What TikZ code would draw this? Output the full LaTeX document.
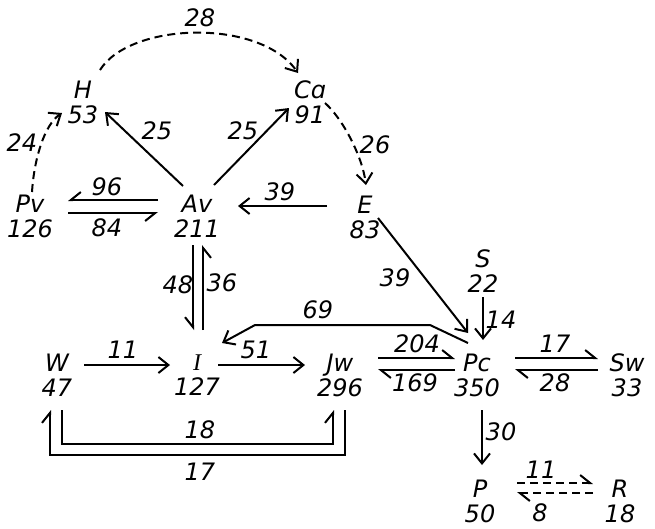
\documentclass[tikz,border=0pt]{standalone}
\usepackage{fontspec}
\setmainfont{DejaVu Sans}
\newfontfamily\serifI{Liberation Serif}
\usetikzlibrary{arrows.meta,calc}
\begin{document}
\begin{tikzpicture}[x=1pt,y=-1pt,
  every node/.style={font=\fontsize{24}{25}\selectfont\itshape, inner sep=0pt},
  sp/.style={align=center},
  ln/.style={line width=2pt},
  arr/.style={ln,-{Straight Barb[length=10pt,width=16pt]}},
  hl/.style={ln,-{Straight Barb[harpoon,length=10pt,width=16pt]}},
  hr/.style={ln,-{Straight Barb[harpoon,swap,length=10pt,width=16pt]}},
  dsh/.style={dash pattern=on 8pt off 5pt}]
\useasboundingbox (0,0) rectangle (655,528);
% species nodes
\node[sp] (H)  at (83,102)  {H\\53};
\node[sp] (Ca) at (310,102) {Cɑ\\91};
\node[sp] (Pv) at (30,216)  {Pv\\126};
\node[sp] (Av) at (197,216) {Av\\211};
\node[sp] (E)  at (365,217) {E\\83};
\node[sp] (S)  at (483,271) {S\\22};
\node[sp] (W)  at (57,375)  {W\\47};
\node[sp] (I)  at (197,375) {{\serifI I}\\127};
\node[sp] (Jw) at (340,375) {Jw\\296};
\node[sp] (Pc) at (477,375) {Pc\\350};
\node[sp] (Sw) at (627,375) {Sw\\33};
\node[sp] (P)  at (480,501) {P\\50};
\node[sp] (R)  at (620,501) {R\\18};
% flow labels
\node (l28a) at (200,18)  {28};
\node (l24)  at (22,143)  {24};
\node (l25a) at (157,131) {25};
\node (l25b) at (243,131) {25};
\node (l26)  at (375,145) {26};
\node (l96)  at (107,187) {96};
\node (l84)  at (107,228) {84};
\node (l39a) at (280,192) {39};
\node (l39b) at (395,278) {39};
\node (l48)  at (178,285) {48};
\node (l36)  at (222,283) {36};
\node (l69)  at (318,310) {69};
\node (l14)  at (501,320) {14};
\node (l11a) at (123,350) {11};
\node (l51)  at (256,350) {51};
\node (l204) at (417,344) {204};
\node (l169) at (415,383) {169};
\node (l17a) at (555,344) {17};
\node (l28b) at (555,383) {28};
\node (l18)  at (200,430) {18};
\node (l17b) at (200,472) {17};
\node (l30)  at (501,432) {30};
\node (l11b) at (541,470) {11};
\node (l8)   at (540,513) {8};
% dashed curves
\draw[arr,dsh] ($(H)+(17,-32)$) .. controls (130,22) and (260,18) .. ($(Ca)+(-12,-29)$);
\draw[arr,dsh] ($(Pv)+(2,-24)$) .. controls (34,160) and (44,125) .. ($(H)+(-21,11)$);
\draw[arr,dsh] ($(Ca)+(15,1)$) .. controls (342,118) and (362,155) .. ($(E)+(1,-32)$);
% straight arrows
\draw[arr] ($(Av)+(-14,-30)$) -- ($(H)+(22,10)$);
\draw[arr] ($(Av)+(17,-31)$) -- ($(Ca)+(-21,6)$);
\draw[arr] ($(E)+(-38,-11)$) -- ($(Av)+(41,-10)$);
\draw[arr] ($(E)+(13,1)$) -- ($(Pc)+(-9,-42)$);
\draw[arr] ($(S)+(0,26)$) -- ($(Pc)+(6,-35)$);
\draw[arr] ($(Pc)+(-9,-32)$) -- ($(Pc)+(-47,-50)$) -- ($(I)+(58,-50)$) -- ($(I)+(25,-32)$);
\draw[arr] ($(W)+(27,-10)$) -- ($(I)+(-27,-10)$);
\draw[arr] ($(I)+(21,-10)$) -- ($(Jw)+(-35,-10)$);
\draw[arr] ($(Pc)+(5,35)$) -- ($(P)+(2,-36)$);
% paired harpoons
\draw[hr] ($(Av)+(-39,-16)$) -- ($(Pv)+(38,-16)$);
\draw[hr] ($(Pv)+(38,-3)$) -- ($(Av)+(-39,-3)$);
\draw[hr] ($(Av)+(-4,29)$) -- ($(I)+(-4,-45)$);
\draw[hr] ($(I)+(6,-45)$) -- ($(Av)+(6,29)$);
\draw[hl] ($(Jw)+(38,-17)$) -- ($(Pc)+(-22,-17)$);
\draw[hl] ($(Pc)+(-22,-5)$) -- ($(Jw)+(38,-5)$);
\draw[hl] ($(Pc)+(38,-17)$) -- ($(Sw)+(-29,-17)$);
\draw[hl] ($(Sw)+(-29,-5)$) -- ($(Pc)+(38,-5)$);
\draw[hl,dsh] ($(P)+(37,-18)$) -- ($(R)+(-27,-18)$);
\draw[hl,dsh] ($(R)+(-27,-8)$) -- ($(P)+(37,-8)$);
% loops under W and Jw
\draw[hl] ($(W)+(5,35)$) -- ($(W)+(5,69)$) -- ($(Jw)+(-7,69)$) -- ($(Jw)+(-7,35)$);
\draw[hl] ($(Jw)+(5,35)$) -- ($(Jw)+(5,80)$) -- ($(W)+(-7,80)$) -- ($(W)+(-7,35)$);
\end{tikzpicture}
\end{document}
